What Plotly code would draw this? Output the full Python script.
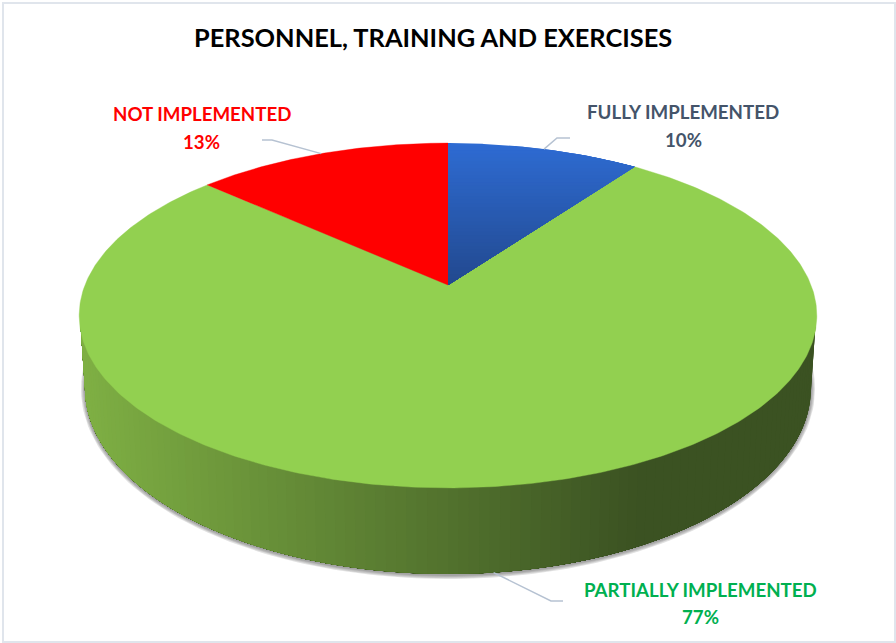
import numpy as np
import plotly.graph_objects as go

# --- data ---
categories = ["FULLY IMPLEMENTED", "PARTIALLY IMPLEMENTED", "NOT IMPLEMENTED"]
shares = [10.0, 76.7, 13.3]
title_text = "PERSONNEL, TRAINING AND EXERCISES"

# --- styles / layout ---
label_colors = ["#44546a", "#00b050", "#ff0000"]
label_centers = [(683, 112, 140), (700, 590, 617), (201.5, 114, 142)]
elbows = [[(557, 138), (570, 138)], [(551, 601), (563, 601)], [(272, 140), (262, 140)]]
leader_on_side = [False, True, False]
GREEN, RED = "#92d050", "#ff0000"
BLUE_TOP, BLUE_BOT = (46, 107, 210), (34, 73, 143)
SIDE_L, SIDE_R = (127, 176, 68), (59, 82, 34)
W, H = 896, 643

# pie projection (the 3-D perspective view of a unit disc)
CX, APEX_Y, R, A, C = 448.0, 285.0, 363.0, 167.0, -0.177
TOP_ELL = (448.0, 315.5, 369.0, 172.5)
BOT_ELL = (448.0, 388.0, 363.0, 186.0)
DEPTH = 86.0


def project(theta):
    u, v = np.sin(theta), -np.cos(theta)
    d = 1 + C * v
    return CX + R * u / d, APEX_Y + A * v / d


def wedge(t0, t1, n=120):
    t = np.linspace(t0, t1, n)
    x, y = project(t)
    return [CX, *x, CX], [APEX_Y, *y, APEX_Y]


def clip_below(xs, ys, level):
    pts = list(zip(xs, ys))
    out = []
    for i in range(len(pts)):
        a, b = pts[i], pts[(i + 1) % len(pts)]
        ia, ib = a[1] >= level, b[1] >= level
        if ia:
            out.append(a)
        if ia != ib:
            out.append((a[0] + (b[0] - a[0]) * (level - a[1]) / (b[1] - a[1]), level))
    return out


def mix(c0, c1, f):
    f = min(max(f, 0), 1)
    return "rgb(%d,%d,%d)" % tuple(round(a + (b - a) * f) for a, b in zip(c0, c1))


def poly(fig, xs, ys, color, lw=0.0):
    fig.add_trace(go.Scatter(x=list(xs), y=list(ys), mode="lines", fill="toself", fillcolor=color,
                             line=dict(color=color, width=lw), hoverinfo="skip", showlegend=False))


def ellipse(e, grow=0.0, dy=0.0, n=240):
    t = np.linspace(0, 2 * np.pi, n)
    return e[0] + (e[2] + grow) * np.cos(t), e[1] + dy + (e[3] + grow) * np.sin(t)


fig = go.Figure()

# soft shadow under the lower rim
for g in (4.0, 3.0, 2.0, 1.0):
    ex, ey = ellipse(BOT_ELL, grow=g, dy=1.0)
    poly(fig, ex, ey, "rgba(90,90,90,0.18)")

# side wall with horizontal shading: each layer repaints from its start to the left end
steps = 110
for i in range(steps):
    t = np.linspace(np.pi * i / steps, np.pi, 200 - i)
    tt = np.clip(t, 0.05, np.pi - 0.05)
    xb = BOT_ELL[0] + BOT_ELL[2] * np.cos(t)
    yb = BOT_ELL[1] + BOT_ELL[3] * np.sin(t)
    xt = TOP_ELL[0] + (TOP_ELL[2] - 1) * np.cos(tt)
    yt = TOP_ELL[1] + TOP_ELL[3] * np.sin(tt)
    col = mix(SIDE_L, SIDE_R, (xb[0] - 85) / (640 - 85))
    poly(fig, [*xb, *xt[::-1], xb[0]], [*yb, *yt[::-1], yb[0]], col)

# top face
fractions = np.cumsum([0] + shares) / sum(shares)
angles = fractions * 2 * np.pi
wx, wy = wedge(angles[1], angles[2], 400)
poly(fig, wx, wy, GREEN, lw=0.4)
wx, wy = wedge(angles[2], angles[3])
poly(fig, wx, wy, RED, lw=0.4)

wx, wy = wedge(angles[0], angles[1])
y_min, y_max = min(wy), max(wy)
n_bands = 40
for i in range(n_bands):
    pts = clip_below(wx[:-1], wy[:-1], y_min + (y_max - y_min) * i / n_bands)
    if len(pts) >= 3:
        px, py = zip(*(pts + pts[:1]))
        poly(fig, px, py, mix(BLUE_TOP, BLUE_BOT, i / (n_bands - 1)))

# leader lines and labels
mids = (angles[:-1] + angles[1:]) / 2
for k, name in enumerate(categories):
    ax, ay = project(mids[k])
    if leader_on_side[k]:
        ay = ay + DEPTH
    lx = [float(ax)] + [p[0] for p in elbows[k]]
    ly = [float(ay)] + [p[1] for p in elbows[k]]
    fig.add_trace(go.Scatter(x=lx, y=ly, mode="lines", line=dict(color="#b6c2d2", width=1.5),
                             hoverinfo="skip", showlegend=False))
    cx, y1, y2 = label_centers[k]
    for text, yy in ((name, y1), (f"{round(shares[k])}%", y2)):
        fig.add_annotation(x=cx, y=yy, text=f"<b>{text}</b>", showarrow=False, xanchor="center",
                           yanchor="middle", font=dict(family="Lato", size=18.7, color=label_colors[k]))

fig.add_annotation(x=433, y=37, text=f"<b>{title_text}</b>", showarrow=False, xanchor="center",
                   yanchor="middle", font=dict(family="Lato", size=25.4, color="#000000"))

fig.add_shape(type="rect", x0=3, y0=3, x1=895, y1=642, line=dict(color="#e0e5ec", width=2),
              fillcolor="rgba(0,0,0,0)", layer="below")

fig.update_layout(width=W, height=H, margin=dict(l=0, r=0, t=0, b=0), paper_bgcolor="white",
                  plot_bgcolor="white", showlegend=False,
                  xaxis=dict(range=[0, W], visible=False, fixedrange=True),
                  yaxis=dict(range=[H, 0], visible=False, fixedrange=True))

fig.write_html("out.html", config={"displayModeBar": False},
               post_script="document.body.style.margin='0';document.documentElement.style.overflow='hidden';")
